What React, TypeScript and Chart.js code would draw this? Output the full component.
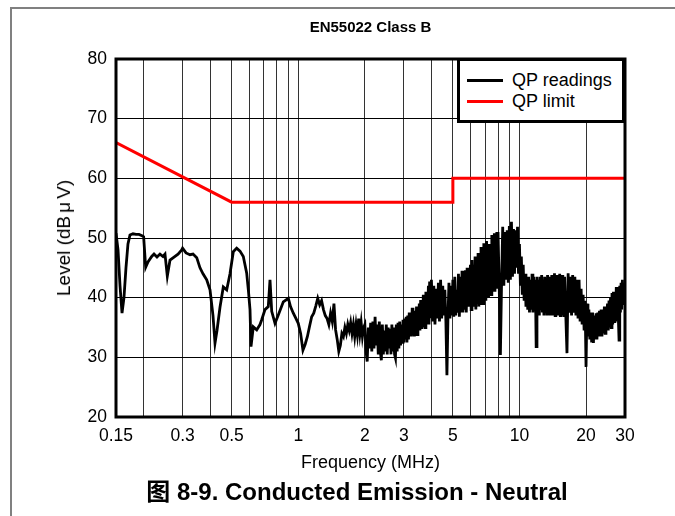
import React, { useEffect, useRef } from 'react';
import { Chart, registerables } from 'chart.js';

Chart.register(...registerables);

const FONT = "'Liberation Sans', Arial, Helvetica, sans-serif";

// QP readings, 0.15 – 1 MHz
const freqA = [0.15, 0.1532, 0.1564, 0.1597, 0.163, 0.1664, 0.1699, 0.1735, 0.179, 0.1847, 0.1906, 0.1966, 0.2, 0.2043, 0.2093, 0.2175, 0.2228, 0.2298, 0.2371, 0.2447, 0.2498, 0.2559, 0.2632, 0.2744, 0.2861, 0.2973, 0.3, 0.3109, 0.3242, 0.3344, 0.3476, 0.3596, 0.371, 0.3856, 0.3991, 0.4117, 0.4204, 0.4292, 0.4428, 0.4583, 0.4748, 0.4914, 0.5086, 0.5269, 0.5454, 0.5644, 0.5847, 0.5958, 0.6052, 0.6115, 0.6263, 0.6489, 0.6716, 0.6836, 0.7074, 0.7321, 0.7452, 0.7586, 0.785, 0.8124, 0.856, 0.9018, 0.9226, 0.95, 0.977];
const levelA = [50.8, 48, 42, 37.4, 40, 45, 49, 50.5, 50.7, 50.6, 50.6, 50.4, 50.2, 45.1, 46, 46.9, 47.3, 46.8, 47.3, 46.9, 47.3, 43.6, 46.3, 46.8, 47.3, 48, 48.3, 47.5, 47.2, 47.3, 46.7, 45, 44, 43, 41.3, 37, 32.4, 34.5, 38.4, 41.8, 41.3, 44, 47.7, 48.3, 47.8, 46.9, 44.1, 41, 38, 31.8, 35.1, 34.6, 35.5, 36.3, 38, 38.5, 43, 37.7, 35.7, 37.1, 39.3, 39.9, 38.5, 37.4, 36.5];

// 1 – 2 MHz
const freqB = [1.0, 1.025, 1.05, 1.075, 1.1, 1.125, 1.15, 1.175, 1.2, 1.225, 1.25, 1.275, 1.3, 1.325, 1.35, 1.375, 1.4, 1.425, 1.45, 1.475, 1.5, 1.525, 1.55, 1.575, 1.6, 1.625, 1.65, 1.675, 1.7, 1.725, 1.75, 1.775, 1.8, 1.825, 1.85, 1.875, 1.9, 1.925, 1.95, 1.975];
const levelB = [35.7, 34.0, 31.2, 32.2, 33.5, 35.2, 36.8, 37.4, 38.6, 39.9, 38.8, 39.5, 38.0, 37.0, 36.5, 35.5, 37.4, 36.0, 39.0, 34.6, 33.0, 31.0, 32.0, 34.0, 33.5, 35.0, 34.0, 35.5, 34.5, 35.8, 34.0, 35.5, 33.5, 35.5, 33.8, 36.5, 34.0, 35.8, 33.5, 35.0];

// 2 – 4 MHz
const freqC = [2, 2.025, 2.05, 2.075, 2.1, 2.125, 2.15, 2.175, 2.2, 2.225, 2.25, 2.275, 2.3, 2.325, 2.35, 2.375, 2.4, 2.425, 2.45, 2.475, 2.5, 2.525, 2.55, 2.575, 2.6, 2.625, 2.65, 2.675, 2.7, 2.725, 2.75, 2.775, 2.8, 2.825, 2.85, 2.875, 2.9, 2.925, 2.95, 2.975, 3, 3.025, 3.05, 3.075, 3.1, 3.125, 3.15, 3.175, 3.2, 3.225, 3.25, 3.275, 3.3, 3.325, 3.35, 3.375, 3.4, 3.425, 3.45, 3.475, 3.5, 3.525, 3.55, 3.575, 3.6, 3.625, 3.65, 3.675, 3.7, 3.725, 3.75, 3.775, 3.8, 3.825, 3.85, 3.875, 3.9, 3.925, 3.95, 3.975];
const levelC = [
  35.5, 31.0, 29.3, 35.0, 31.5, 35.8, 31.0, 36.0, 31.5, 36.8,
  32.0, 35.5, 30.5, 36.0, 31.0, 29.5, 35.5, 30.5, 34.5, 31.0,
  35.5, 30.5, 35.0, 31.5, 34.8, 30.5, 35.5, 31.0, 35.0, 30.5,
  29.9, 35.5, 31.0, 35.8, 31.5, 36.0, 32.0, 35.5, 32.5, 36.3,
  32.5, 36.5, 33.0, 36.8, 32.5, 37.0, 33.0, 37.5, 33.5, 37.2,
  33.5, 38.3, 34.0, 37.5, 33.5, 37.8, 34.0, 38.5, 33.8, 38.0,
  34.5, 39.0, 34.5, 39.6, 35.0, 39.0, 35.0, 40.5, 35.5, 40.0,
  35.0, 41.0, 35.5, 40.5, 36.0, 42.0, 35.5, 42.7, 36.8, 41.5,
];

// 4 – 8 MHz
const freqD = [4, 4.05, 4.1, 4.15, 4.2, 4.25, 4.3, 4.35, 4.4, 4.45, 4.5, 4.55, 4.6, 4.65, 4.7, 4.75, 4.8, 4.85, 4.9, 4.95, 5, 5.05, 5.1, 5.15, 5.2, 5.25, 5.3, 5.35, 5.4, 5.45, 5.5, 5.55, 5.6, 5.65, 5.7, 5.75, 5.8, 5.85, 5.9, 5.95, 6, 6.05, 6.1, 6.15, 6.2, 6.25, 6.3, 6.35, 6.4, 6.45, 6.5, 6.55, 6.6, 6.65, 6.7, 6.75, 6.8, 6.85, 6.9, 6.95, 7, 7.05, 7.1, 7.15, 7.2, 7.25, 7.3, 7.35, 7.4, 7.45, 7.5, 7.55, 7.6, 7.65, 7.7, 7.75, 7.8, 7.85, 7.9, 7.95];
const levelD = [
  43.0, 36.0, 42.0, 35.5, 41.5, 36.5, 42.5, 36.0, 43.0, 36.5,
  42.0, 37.0, 41.3, 36.0, 27.0, 36.5, 42.5, 36.5, 42.0, 37.0,
  43.0, 36.8, 43.5, 37.0, 41.3, 37.5, 44.0, 36.8, 43.5, 37.5,
  44.5, 37.5, 43.5, 38.0, 44.6, 37.5, 45.0, 38.5, 44.5, 38.5,
  45.5, 38.0, 46.3, 38.5, 45.5, 38.5, 46.9, 38.0, 46.5, 39.0,
  47.5, 38.5, 47.0, 39.0, 48.5, 39.5, 48.0, 39.0, 49.1, 40.0,
  48.0, 39.5, 49.5, 40.5, 48.5, 40.0, 49.0, 41.0, 48.5, 40.5,
  50.5, 41.0, 49.5, 41.5, 50.8, 41.0, 50.0, 42.0, 51.0, 41.5,
];

// 8 – 16 MHz
const freqE = [8, 8.1, 8.2, 8.3, 8.4, 8.5, 8.6, 8.7, 8.8, 8.9, 9, 9.1, 9.2, 9.3, 9.4, 9.5, 9.6, 9.7, 9.8, 9.9, 10, 10.1, 10.2, 10.3, 10.4, 10.5, 10.6, 10.7, 10.8, 10.9, 11, 11.1, 11.2, 11.3, 11.4, 11.5, 11.6, 11.7, 11.8, 11.9, 12, 12.1, 12.2, 12.3, 12.4, 12.5, 12.6, 12.7, 12.8, 12.9, 13, 13.1, 13.2, 13.3, 13.4, 13.5, 13.6, 13.7, 13.8, 13.9, 14, 14.1, 14.2, 14.3, 14.4, 14.5, 14.6, 14.7, 14.8, 14.9, 15, 15.1, 15.2, 15.3, 15.4, 15.5, 15.6, 15.7, 15.8, 15.9];
const levelE = [
  51.0, 42.0, 30.4, 42.5, 51.9, 42.0, 51.0, 43.0, 51.3, 42.5,
  52.0, 43.0, 52.7, 43.5, 51.5, 44.0, 51.3, 45.0, 51.9, 44.0,
  49.0, 42.0, 46.9, 40.5, 45.5, 39.5, 44.0, 38.5, 43.5, 38.0,
  43.5, 37.5, 43.0, 38.0, 44.0, 37.5, 43.5, 38.0, 43.0, 31.8,
  43.5, 37.5, 43.0, 37.0, 43.5, 38.0, 43.8, 37.5, 43.0, 37.0,
  43.5, 37.5, 43.0, 37.0, 43.8, 37.5, 43.5, 37.0, 43.0, 37.5,
  43.8, 37.0, 43.5, 37.5, 44.1, 37.0, 43.5, 37.5, 43.8, 37.0,
  43.5, 37.5, 44.0, 37.0, 43.5, 37.5, 43.8, 37.0, 43.5, 37.0,
];

// 16 – 30 MHz
const freqF = [16, 16.2, 16.4, 16.6, 16.8, 17, 17.2, 17.4, 17.6, 17.8, 18, 18.2, 18.4, 18.6, 18.8, 19, 19.2, 19.4, 19.6, 19.8, 20, 20.2, 20.4, 20.6, 20.8, 21, 21.2, 21.4, 21.6, 21.8, 22, 22.2, 22.4, 22.6, 22.8, 23, 23.2, 23.4, 23.6, 23.8, 24, 24.2, 24.4, 24.6, 24.8, 25, 25.2, 25.4, 25.6, 25.8, 26, 26.2, 26.4, 26.6, 26.8, 27, 27.2, 27.4, 27.6, 27.8, 28, 28.2, 28.4, 28.6, 28.8, 29, 29.2, 29.4, 29.6, 29.8, 30];
const levelF = [
  43.5, 37.0, 30.7, 44.1, 37.5, 43.5, 37.0, 43.8, 37.5, 43.5,
  37.0, 43.0, 36.5, 43.0, 36.0, 41.5, 35.5, 40.5, 34.5, 39.5,
  28.4, 39.0, 33.5, 38.0, 33.0, 37.5, 32.5, 37.5, 32.4, 37.0,
  33.0, 37.4, 33.0, 37.5, 33.5, 37.8, 33.5, 38.0, 33.5, 38.0,
  34.0, 38.5, 34.0, 38.5, 34.5, 39.0, 34.5, 39.5, 35.0, 40.0,
  35.0, 40.8, 35.5, 41.0, 36.0, 41.0, 36.0, 41.8, 36.5, 41.5,
  36.5, 32.9, 42.0, 37.5, 42.5, 38.0, 43.0, 39.0, 42.5, 39.5,
  42.0,
];

// QP limit (EN55022 Class B)
const limitFreq = [0.15, 0.5, 5, 5, 30];
const limitLevel = [66, 56, 56, 60, 60];

// Axis ticks
const gridFreqs = [0.15, 0.2, 0.3, 0.4, 0.5, 0.6, 0.7, 0.8, 0.9, 1, 2, 3, 4, 5, 6, 7, 8, 9, 10, 20, 30];
const xTickLabels = [0.15, 0.3, 0.5, 1, 2, 3, 5, 10, 20, 30];
const yMin = 20;
const yMax = 80;
const yStep = 10;

const readingsFreq = [...freqA, ...freqB, ...freqC, ...freqD, ...freqE, ...freqF];
const readingsLevel = [...levelA, ...levelB, ...levelC, ...levelD, ...levelE, ...levelF];

const framePlugin = {
  id: 'plotFrame',
  afterDatasetsDraw(chart: any) {
    const { ctx, chartArea } = chart;
    const { left, top, right, bottom } = chartArea;
    ctx.save();
    ctx.strokeStyle = '#000';
    ctx.lineWidth = 3;
    ctx.strokeRect(left, top, right - left, bottom - top);
    ctx.restore();
  },
};

export default function App() {
  const canvasRef = useRef<HTMLCanvasElement | null>(null);

  useEffect(() => {
    const canvas = canvasRef.current;
    if (!canvas) return;
    const readings = readingsFreq.map((f, i) => ({ x: f, y: readingsLevel[i] }));
    const limit = limitFreq.map((f, i) => ({ x: f, y: limitLevel[i] }));
    const chart = new Chart(canvas, {
      type: 'line',
      data: {
        datasets: [
          {
            label: 'QP readings',
            data: readings,
            borderColor: '#000',
            borderWidth: 2.8,
            pointRadius: 0,
            tension: 0,
            fill: false,
            order: 1,
          },
          {
            label: 'QP limit',
            data: limit,
            borderColor: '#ff0000',
            borderWidth: 3,
            pointRadius: 0,
            tension: 0,
            fill: false,
            order: 0,
          },
        ],
      },
      options: {
        responsive: false,
        animation: false,
        events: [],
        layout: { padding: { left: 0, top: 59, right: 50, bottom: 0 } },
        plugins: {
          legend: { display: false },
          title: { display: false },
          tooltip: { enabled: false },
        },
        scales: {
          x: {
            type: 'logarithmic',
            min: 0.15,
            max: 30,
            afterBuildTicks: (s: any) => {
              s.ticks = gridFreqs.map((v) => ({ value: v }));
            },
            afterFit: (s: any) => {
              s.height = 99;
            },
            grid: { color: '#333', lineWidth: 1, drawTicks: false },
            border: { display: false },
            ticks: {
              autoSkip: false,
              maxRotation: 0,
              minRotation: 0,
              padding: 9,
              color: '#000',
              font: { family: FONT, size: 17.5 },
              callback: (v: any) => (xTickLabels.includes(Number(v)) ? String(v) : ''),
            },
          },
          y: {
            min: yMin,
            max: yMax,
            afterFit: (s: any) => {
              s.width = 116;
            },
            grid: { color: '#000', lineWidth: 1, drawTicks: false },
            border: { display: false },
            ticks: {
              stepSize: yStep,
              padding: 9,
              color: '#000',
              font: { family: FONT, size: 17.5 },
            },
          },
        },
      },
      plugins: [framePlugin],
    });
    return () => chart.destroy();
  }, []);

  return (
    <div
      style={{
        position: 'fixed',
        left: 0,
        top: 0,
        width: 675,
        height: 516,
        background: '#fff',
        overflow: 'hidden',
        fontFamily: FONT,
        color: '#000',
      }}
    >
      <canvas
        ref={canvasRef}
        width={675}
        height={516}
        style={{ position: 'absolute', left: 0, top: 0, width: 675, height: 516 }}
      />
      {/* page frame */}
      <div style={{ position: 'absolute', left: 10, top: 7, width: 665, height: 2, background: '#808080' }} />
      <div style={{ position: 'absolute', left: 10, top: 7, width: 2, height: 509, background: '#808080' }} />
      {/* title */}
      <div
        style={{
          position: 'absolute',
          left: 116,
          width: 509,
          top: 17,
          lineHeight: '20px',
          textAlign: 'center',
          fontWeight: 'bold',
          fontSize: 15,
        }}
      >
        EN55022 Class B
      </div>
      {/* y axis title */}
      <div
        style={{
          position: 'absolute',
          left: 64,
          top: 238,
          transform: 'translate(-50%, -50%) rotate(-90deg)',
          whiteSpace: 'nowrap',
          fontSize: 19,
          lineHeight: '22px',
        }}
      >
        Level (dB<span style={{ margin: '0 3px' }}>μ</span>V)
      </div>
      {/* x axis title */}
      <div
        style={{
          position: 'absolute',
          left: 116,
          width: 509,
          top: 452,
          lineHeight: '20px',
          textAlign: 'center',
          fontSize: 18,
        }}
      >
        Frequency (MHz)
      </div>
      {/* caption */}
      <div
        style={{
          position: 'absolute',
          left: 57,
          width: 600,
          top: 478,
          lineHeight: '28px',
          textAlign: 'center',
          fontWeight: 'bold',
          fontSize: 24,
          fontFamily: "'Liberation Sans', Arial, 'Noto Sans CJK SC', sans-serif",
        }}
      >
        图 8-9. Conducted Emission - Neutral
      </div>
      {/* legend */}
      <div
        style={{
          position: 'absolute',
          left: 457,
          top: 58,
          width: 168,
          height: 65,
          boxSizing: 'border-box',
          border: '3px solid #000',
          background: '#fff',
        }}
      />
      <div style={{ position: 'absolute', left: 467, top: 79, width: 36, height: 3, background: '#000' }} />
      <div style={{ position: 'absolute', left: 467, top: 100, width: 36, height: 3, background: '#ff0000' }} />
      <div style={{ position: 'absolute', left: 512, top: 70, lineHeight: '20px', fontSize: 18, whiteSpace: 'nowrap' }}>
        QP readings
      </div>
      <div style={{ position: 'absolute', left: 512, top: 91, lineHeight: '20px', fontSize: 18, whiteSpace: 'nowrap' }}>
        QP limit
      </div>
    </div>
  );
}
